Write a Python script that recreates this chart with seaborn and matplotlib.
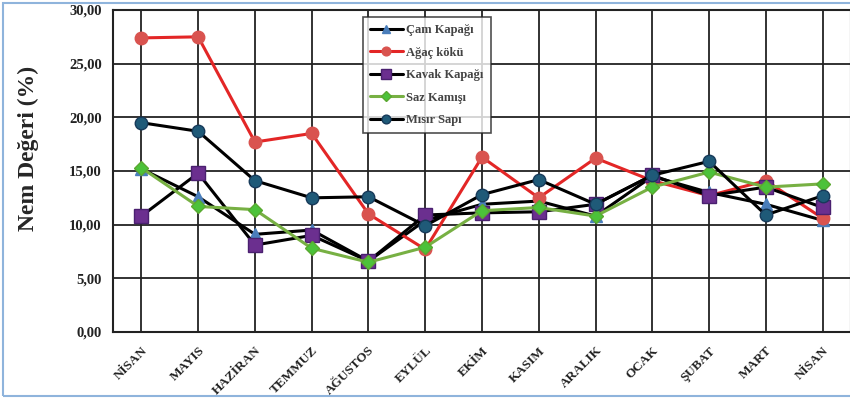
import numpy as np
import pandas as pd
import seaborn as sns
import matplotlib.pyplot as plt
import matplotlib.transforms as mtransforms
from matplotlib.patches import Rectangle

# months (NİSAN appears twice, so x is the position index)
months = ["NİSAN", "MAYIS", "HAZİRAN", "TEMMUZ", "AĞUSTOS", "EYLÜL", "EKİM",
          "KASIM", "ARALIK", "OCAK", "ŞUBAT", "MART", "NİSAN"]

cam_kapagi = [15.2, 12.6, 9.1, 9.5, 6.6, 10.4, 11.9, 12.2, 10.8, 14.5, 13.0, 11.9, 10.4]
agac_koku = [27.4, 27.5, 17.7, 18.5, 11.0, 7.7, 16.3, 12.5, 16.2, 14.1, 12.7, 14.1, 10.6]
kavak_kapagi = [10.8, 14.8, 8.1, 9.0, 6.6, 10.9, 11.1, 11.2, 11.9, 14.6, 12.7, 13.5, 11.6]
saz_kamisi = [15.3, 11.7, 11.4, 7.8, 6.5, 7.9, 11.3, 11.6, 10.8, 13.5, 14.9, 13.5, 13.8]
misir_sapi = [19.5, 18.7, 14.1, 12.5, 12.6, 9.9, 12.8, 14.2, 11.9, 14.6, 15.9, 10.9, 12.7]

yticks = [0, 5, 10, 15, 20, 25, 30]

sns.set_style("white")
plt.rcParams['font.family'] = ['Liberation Serif', 'DejaVu Serif']

fig = plt.figure(figsize=(8.5, 4.01), dpi=100)
ax = fig.add_axes([113 / 850, 1 - 332 / 401, 738 / 850, 322 / 401])

x = np.arange(len(months))
series = [
    ("Çam Kapağı", cam_kapagi, "black", "^", "#4a7ebb", "#4a7ebb", 8),
    ("Ağaç kökü", agac_koku, "#e32626", "o", "#d9534f", "#d9534f", 9),
    ("Kavak Kapağı", kavak_kapagi, "black", "s", "#6b2f8f", "#4a2070", 10),
    ("Saz Kamışı", saz_kamisi, "#77b043", "D", "#4cc23a", "#5aa830", 7),
    ("Mısır Sapı", misir_sapi, "black", "o", "#1f5a78", "#173a5a", 9),
]

for name, vals, lc, mk, mfc, mec, ms in series:
    df = pd.DataFrame({"x": x, "y": vals})
    sns.lineplot(data=df, x="x", y="y", ax=ax, color=lc, linewidth=2.2,
                 marker=mk, markersize=ms, markerfacecolor=mfc,
                 markeredgecolor=mec, markeredgewidth=1, label=name, sort=False)

ax.set_xlim(-0.5, 12.5)
ax.set_ylim(0, 30)
ax.set_xticks(x)
ax.set_xticklabels(months, rotation=45, ha="right", rotation_mode="anchor",
                   fontsize=9.5, fontweight="bold")
# nudge the slanted month labels a little to the right
shift = mtransforms.ScaledTranslation(5 / 100, 0, fig.dpi_scale_trans)
for lab in ax.get_xticklabels():
    lab.set_transform(lab.get_transform() + shift)
ax.set_yticks(yticks)
ax.set_yticklabels([f"{v:.2f}".replace(".", ",") for v in yticks],
                   fontsize=10.5, fontweight="bold")
ax.tick_params(axis="both", length=0, pad=8, colors="#222222")
ax.tick_params(axis="x", pad=9)
ax.set_xlabel("")
ax.set_ylabel("Nem Değeri (%)", fontsize=17, fontweight="bold")
ax.yaxis.set_label_coords(-0.100, 0.571)
ax.grid(True, color="#222222", linewidth=1.3)
ax.set_axisbelow(True)
for s in ax.spines.values():
    s.set_color("#222222")
    s.set_linewidth(1.5)

leg = ax.legend(loc="upper left", bbox_to_anchor=(0.339, 0.978), fontsize=9,
                frameon=True, fancybox=False, edgecolor="#222222",
                labelspacing=0.85, handlelength=2.6, handletextpad=0.3,
                borderpad=0.55, borderaxespad=0, markerscale=0.7)
leg.get_frame().set_linewidth(1.2)
for t in leg.get_texts():
    t.set_fontweight("bold")
    t.set_color("#444444")

fig.patches.append(Rectangle((0.004, 0.012), 1.0, 0.98, transform=fig.transFigure,
                             fill=False, edgecolor="#8fb4dc", linewidth=1.5))

fig.savefig("out.png", dpi=100)
